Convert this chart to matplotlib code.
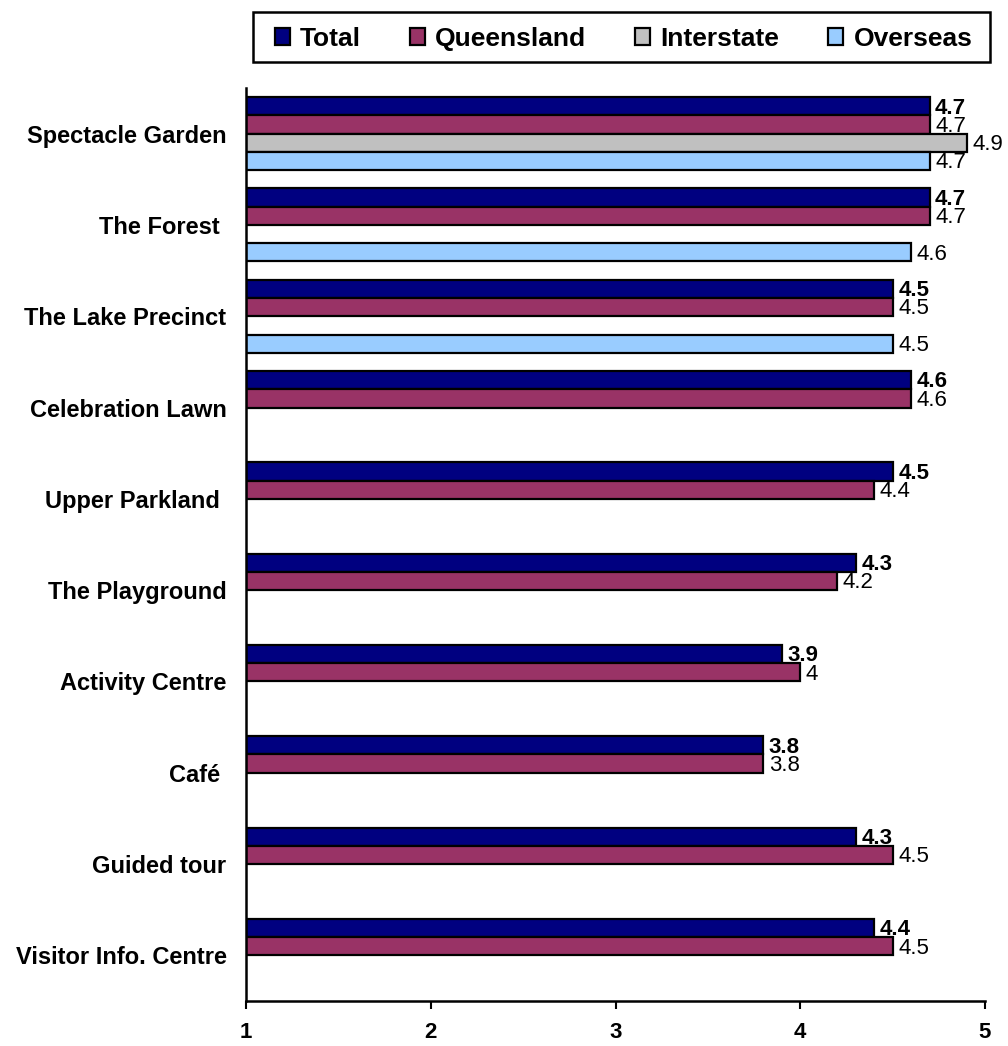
import matplotlib
matplotlib.use("Agg")
import matplotlib.pyplot as plt
from matplotlib.patches import Rectangle
import numpy as np

plt.rcParams['font.family'] = ['Liberation Sans', 'DejaVu Sans']

categories = ["Spectacle Garden", "The Forest ", "The Lake Precinct", "Celebration Lawn",
              "Upper Parkland ", "The Playground", "Activity Centre", "Café ",
              "Guided tour", "Visitor Info. Centre"]

total      = [4.7, 4.7, 4.5, 4.6, 4.5, 4.3, 3.9, 3.8, 4.3, 4.4]
queensland = [4.7, 4.7, 4.5, 4.6, 4.4, 4.2, 4.0, 3.8, 4.5, 4.5]
interstate = [4.9, None, None, None, None, None, None, None, None, None]
overseas   = [4.7, 4.6, 4.5, None, None, None, None, None, None, None]

series_names = ["Total", "Queensland", "Interstate", "Overseas"]
series_vals = [total, queensland, interstate, overseas]
colors = ["#000080", "#993366", "#C0C0C0", "#99CCFF"]

W, H = 1008, 1046
fig = plt.figure(figsize=(W / 100, H / 100), dpi=100)
ax = fig.add_axes([246 / W, 1 - 1001 / H, (985 - 246) / W, (1001 - 88) / H])

bar_h = 0.2
offsets = [-0.3, -0.1, 0.1, 0.3]
y = np.arange(len(categories))

for k, (name, vals, col) in enumerate(zip(series_names, series_vals, colors)):
    ys = [yy + offsets[k] for yy, v in zip(y, vals) if v is not None]
    xs = [v for v in vals if v is not None]
    ax.barh(ys, [v - 1 for v in xs], left=1, height=bar_h, color=col,
            edgecolor="black", linewidth=1.6, label=name)
    for yy, v in zip(ys, xs):
        ax.text(v + 0.03, yy + 0.02, f"{v:g}", va="center", ha="left",
                fontsize=16, fontweight="bold" if k == 0 else "normal")

ax.set_xlim(1, 5)
ax.set_ylim(len(categories) - 0.5, -0.5)
ax.set_xticks([1, 2, 3, 4, 5])
ax.set_xticklabels(["1", "2", "3", "4", "5"], fontsize=16, fontweight="bold")
ax.set_yticks(y)
ax.set_yticklabels(categories, fontsize=17, fontweight="bold")
ax.tick_params(axis="y", length=0, pad=14)
ax.tick_params(axis="x", length=6, width=1.5, direction="out", pad=9)
for s in ["top", "right"]:
    ax.spines[s].set_visible(False)
for s in ["left", "bottom"]:
    ax.spines[s].set_linewidth(1.8)

# legend box drawn as a plain rectangle, legend entries centred inside it
box_l, box_r, box_t, box_b = 253, 990, 12, 62
fig.patches.append(Rectangle((box_l / W, 1 - box_b / H), (box_r - box_l) / W,
                             (box_b - box_t) / H, transform=fig.transFigure,
                             facecolor="white", edgecolor="black", linewidth=1.8))
handles, labels = ax.get_legend_handles_labels()
leg = fig.legend(handles, labels, loc="center", ncol=4,
                 bbox_to_anchor=((box_l + box_r) / 2 / W + 2 / W, 1 - (box_t + box_b) / 2 / H - 2 / H),
                 prop={"weight": "bold", "size": 19}, frameon=False,
                 handlelength=0.58, handleheight=0.58, handletextpad=0.38,
                 columnspacing=1.85, borderpad=0.0)

fig.savefig("out.png", dpi=100)
